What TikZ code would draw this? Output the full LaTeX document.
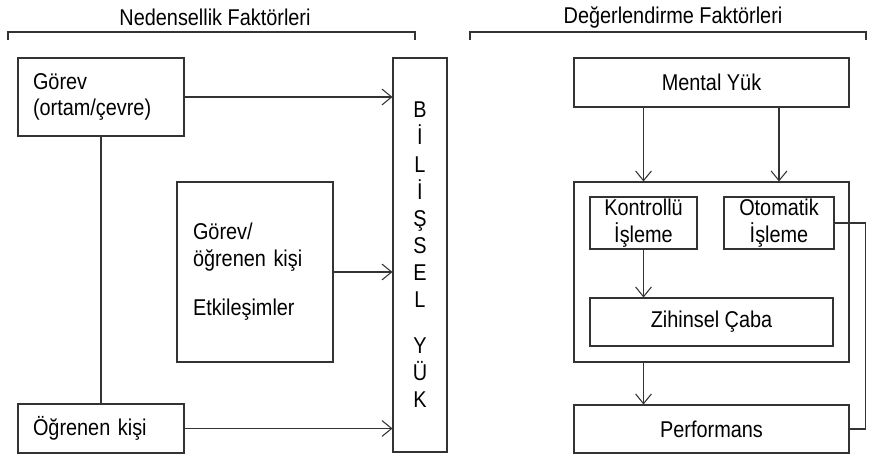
\documentclass[tikz,border=0pt]{standalone}
\usepackage{fontspec}
\setmainfont[FakeStretch=0.87]{Liberation Sans}
\usetikzlibrary{arrows.meta}

\tikzset{
  kutu/.style={draw=black!80,line width=0.6pt,inner sep=0pt,align=center,
    font=\fontsize{13}{15.1}\selectfont},
  ok/.style={draw=black!80,line width=0.6pt,-{Straight Barb[length=5.5pt,width=9pt]}},
  cizgi/.style={draw=black!80,line width=0.6pt}
}

\begin{document}
\begin{tikzpicture}
\useasboundingbox (0,0) rectangle (17.5,9.18);

% basliklar
\node[font=\fontsize{13}{15}\selectfont] (nedensellik) at (4.3,8.84) {Nedensellik Faktörleri};
\node[font=\fontsize{13}{15}\selectfont] (degerlendirme) at (13.46,8.84) {Değerlendirme Faktörleri};
\draw[cizgi] (0.16,8.38) |- (8.3,8.54) -- (8.3,8.38);
\draw[cizgi] (9.4,8.38) |- (17.32,8.54) -- (17.32,8.38);

% sol taraf
\node[kutu,align=left,inner xsep=0.3cm,text width=2.72cm,minimum height=1.56cm] (gorev) at (2.02,7.24) {Görev\\(ortam/çevre)};
\node[kutu,align=left,inner xsep=0.3cm,text width=2.72cm,minimum height=0.98cm] (ogrenen) at (2.02,0.61) {Öğrenen kişi};
\node[kutu,align=left,inner xsep=0.32cm,text width=2.48cm,minimum height=3.6cm] (etkilesim) at (5.1,3.74) {Görev/\\öğrenen kişi\\[13pt]Etkileşimler};
\node[kutu,minimum width=1.08cm,minimum height=7.88cm,font=\fontsize{13}{15.4}\selectfont] (bilissel) at (8.4,4.08)
  {B\\İ\\L\\İ\\Ş\\S\\E\\L\\[11pt]Y\\Ü\\K};

\draw[cizgi] (gorev.south) -- (ogrenen.north);
\draw[ok] (gorev.east) -- (gorev.east -| bilissel.west);
\draw[ok] (etkilesim.east) -- (etkilesim.east -| bilissel.west);
\draw[ok] (ogrenen.east) -- (ogrenen.east -| bilissel.west);

% sag taraf
\node[kutu,minimum width=5.5cm,minimum height=0.98cm] (mental) at (14.23,7.53) {Mental Yük};
\node[kutu,minimum width=5.5cm,minimum height=3.6cm] (isleme) at (14.23,3.74) {};
\node[kutu,minimum width=2.14cm,minimum height=1.04cm] (kontrollu) at (12.87,4.72) {Kontrollü\\İşleme};
\node[kutu,minimum width=2.2cm,minimum height=1.04cm] (otomatik) at (15.58,4.72) {Otomatik\\İşleme};
\node[kutu,minimum width=4.86cm,minimum height=0.96cm] (zihinsel) at (14.23,2.74) {Zihinsel Çaba};
\node[kutu,minimum width=5.5cm,minimum height=0.96cm] (performans) at (14.23,0.6) {Performans};

\draw[ok] (mental.south -| kontrollu) -- (isleme.north -| kontrollu);
\draw[ok] (mental.south -| otomatik) -- (isleme.north -| otomatik);
\draw[ok] (kontrollu.south) -- (zihinsel.north -| kontrollu);
\draw[ok] (isleme.south -| kontrollu) -- (performans.north -| kontrollu);
\draw[cizgi] (otomatik.east) -- ++(0.62,0) |- (performans.east);

\end{tikzpicture}
\end{document}
